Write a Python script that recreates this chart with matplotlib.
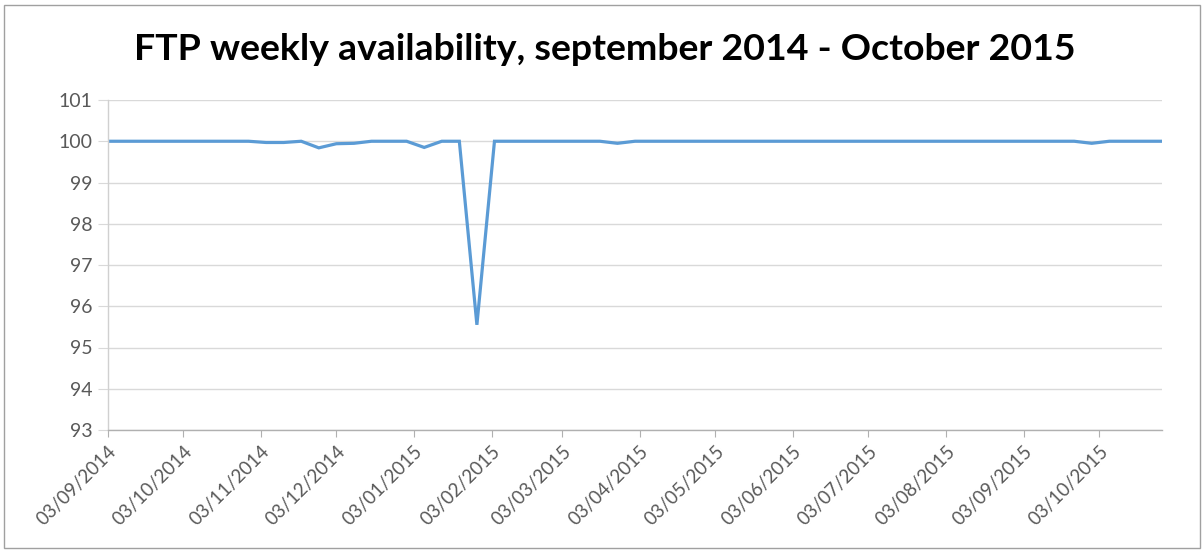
import matplotlib
matplotlib.use("Agg")
import matplotlib.pyplot as plt
import matplotlib.dates as mdates
from matplotlib.patches import Rectangle
import pandas as pd

# ---- data ----
start_date = "2014-09-03"
n_weeks = 61
availability = [
    100, 100, 100, 100, 100, 100, 100, 100, 100, 99.97,
    99.97, 100, 99.84, 99.94, 99.95, 100, 100, 100, 99.85, 100,
    100, 95.55, 100, 100, 100, 100, 100, 100, 100, 99.95,
    100, 100, 100, 100, 100, 100, 100, 100, 100, 100,
    100, 100, 100, 100, 100, 100, 100, 100, 100, 100,
    100, 100, 100, 100, 100, 100, 99.95, 100, 100, 100,
    100,
]
tick_dates = pd.date_range("2014-09-01", "2015-10-01", freq="MS") + pd.Timedelta(days=2)
y_ticks = [93, 94, 95, 96, 97, 98, 99, 100, 101]
title = "FTP weekly availability, september 2014 - October 2015"

dates = pd.date_range(start_date, periods=n_weeks, freq="7D")

W, H = 1202, 550
fig = plt.figure(figsize=(W / 100, H / 100), dpi=100)
plt.rcParams['font.family'] = ['Lato', 'DejaVu Sans']

ax = fig.add_axes([108 / W, 1 - 430 / H, (1162 - 108) / W, (430 - 100) / H])
ax.plot(dates, availability, color="#5B9BD5", lw=2.3, solid_joinstyle="miter")

ax.set_ylim(93, 101)
ax.set_yticks(y_ticks)
ax.set_xlim(dates[0], dates[-1])
ax.set_xticks(tick_dates)
ax.xaxis.set_major_formatter(mdates.DateFormatter("%d/%m/%Y"))

ax.grid(axis="y", color="#d9d9d9", lw=1)
ax.set_axisbelow(True)
for s in ["top", "right"]:
    ax.spines[s].set_visible(False)
ax.spines["left"].set_color("#d0d0d0")
ax.spines["bottom"].set_color("#b0b0b0")
ax.spines["left"].set_linewidth(1)
ax.spines["bottom"].set_linewidth(1)

ax.tick_params(axis="y", length=7, color="#d9d9d9", labelcolor="#595959",
               labelsize=14, pad=4)
ax.tick_params(axis="x", length=5, color="#b0b0b0", labelcolor="#595959",
               labelsize=13.5, pad=4)
for lab in ax.get_xticklabels():
    lab.set_rotation(45)
    lab.set_ha("right")
    lab.set_va("top")
    lab.set_rotation_mode("anchor")

# title, fitted to the reference width
t = fig.text(605 / W, 1 - 60 / H, title, ha="center", va="baseline",
             fontsize=20, fontweight="bold", color="#000000")
fig.canvas.draw()
w = t.get_window_extent().width
t.set_fontsize(20 * 944 / w)

# outer frame
fig.patches.append(Rectangle((4 / W, 2 / H), (W - 6) / W, (H - 7) / H,
                             transform=fig.transFigure, fill=False,
                             edgecolor="#a0a0a0", lw=1))

fig.savefig("out.png", dpi=100)
